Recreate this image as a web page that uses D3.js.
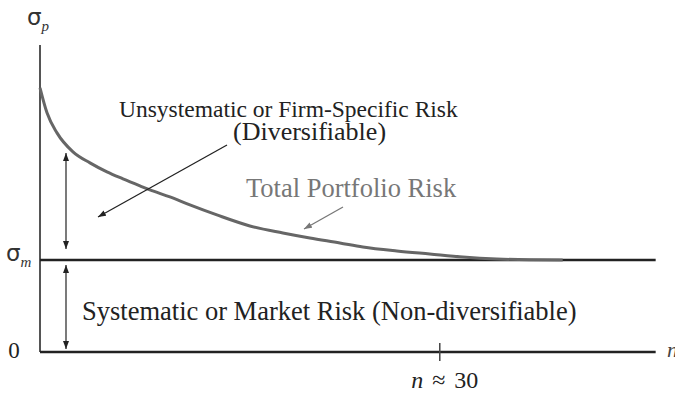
<!DOCTYPE html>
<html><head><meta charset="utf-8">
<script src="https://cdn.jsdelivr.net/npm/d3@7"></script>
<style>body{margin:0;background:#fff}svg{display:block}</style>
</head><body>
<svg id="c" width="675" height="393"></svg>
<script>
// Data
const nValues     = [0, 0.525, 1.275, 2.475, 3.75, 5.025, 6.225, 7.5, 8.25, 9.75, 11.25, 13.275, 15.75, 18.225, 20.25, 22.5, 24.225, 26.775, 29.25, 31.725, 34.275, 36.75, 39.225];
const sigmaValues = [57.4, 51.96, 47.61, 43.48, 41.09, 39.13, 37.61, 36.09, 35.22, 33.70, 31.96, 29.78, 27.39, 25.87, 24.78, 23.70, 22.83, 21.96, 21.30, 20.65, 20.22, 20.04, 20.0];
const sigmaM = 20;
const nMarker = 30;
const labels = {
  unsys1: "Unsystematic or Firm-Specific Risk",
  unsys2: "(Diversifiable)",
  total: "Total Portfolio Risk",
  sys: "Systematic or Market Risk (Non-diversifiable)"
};

const svg = d3.select("#c");
const x = d3.scaleLinear().domain([0, 46.3]).range([40, 657]);
const y = d3.scaleLinear().domain([0, 66.7]).range([352, 45]);
const serif = "'Liberation Serif', serif";

const defs = svg.append("defs");
function marker(id, color) {
  defs.append("marker").attr("id", id).attr("viewBox", "0 0 10 10")
    .attr("refX", 10).attr("refY", 5).attr("markerWidth", 8).attr("markerHeight", 6)
    .attr("markerUnits", "userSpaceOnUse").attr("orient", "auto-start-reverse")
    .attr("preserveAspectRatio", "none")
    .append("path").attr("d", "M0,0 L10,5 L0,10 z").attr("fill", color);
}
marker("ab", "#222");
marker("ag", "#777");

// Y axis line
svg.append("line").attr("x1", x(0)).attr("x2", x(0)).attr("y1", y(66.7)).attr("y2", y(0))
  .attr("stroke", "#555").attr("stroke-width", 2);

// sigma_m line
svg.append("line").attr("x1", x(0)).attr("x2", x(46.2)).attr("y1", y(sigmaM)).attr("y2", y(sigmaM))
  .attr("stroke", "#222").attr("stroke-width", 2.6);

// curve
const pts = nValues.map((n, i) => [n, sigmaValues[i]]);
svg.append("path").datum(pts)
  .attr("d", d3.line().x(d => x(d[0])).y(d => y(d[1])).curve(d3.curveMonotoneX))
  .attr("fill", "none").attr("stroke", "#666").attr("stroke-width", 3);

// X axis
const xAxis = d3.axisBottom(x).tickValues([nMarker]).tickSize(0).tickFormat("");
const gx = svg.append("g").attr("transform", `translate(0,${y(0)})`).call(xAxis);
gx.select(".domain").attr("d", `M${x(0)},0H${x(46.2)}`).attr("stroke", "#222").attr("stroke-width", 2.6);
svg.append("line").attr("x1", x(nMarker)).attr("x2", x(nMarker)).attr("y1", y(0) - 9).attr("y2", y(0) + 9)
  .attr("stroke", "#444").attr("stroke-width", 1.5);
svg.append("text").attr("x", x(nMarker) + 5).attr("y", 388).attr("text-anchor", "middle")
  .attr("font-family", serif).attr("font-size", 24).attr("fill", "#222").attr("word-spacing", 3)
  .html("<tspan font-style='italic'>n</tspan> ≈ 30");
svg.append("text").attr("x", 667).attr("y", 357).attr("font-family", serif).attr("font-style", "italic")
  .attr("font-size", 22).attr("fill", "#444").text("n");

// y labels
function sig(xp, yp, sub) {
  const t = svg.append("text").attr("x", xp).attr("y", yp).attr("font-family", "'DejaVu Sans', sans-serif")
    .attr("font-size", 23).attr("fill", "#333");
  t.append("tspan").text("σ");
  t.append("tspan").attr("font-family", serif).attr("font-style", "italic").attr("font-size", 15)
    .attr("dy", 6).text(sub);
}
sig(27, 25, "p");
sig(6, 261, "m");
svg.append("text").attr("x", 14).attr("y", 358).attr("text-anchor", "middle")
  .attr("font-family", serif).attr("font-size", 23).attr("fill", "#222").text("0");

// double arrows
function dbl(x0, y1, y2) {
  svg.append("line").attr("x1", x0).attr("x2", x0).attr("y1", y1).attr("y2", y2)
    .attr("stroke", "#222").attr("stroke-width", 1.2)
    .attr("marker-start", "url(#ab)").attr("marker-end", "url(#ab)");
}
dbl(66, 153, 249);
dbl(66, 265, 349);

// diagonal arrows
svg.append("line").attr("x1", 227).attr("y1", 145).attr("x2", 98).attr("y2", 217)
  .attr("stroke", "#222").attr("stroke-width", 1.3).attr("marker-end", "url(#ab)");
svg.append("line").attr("x1", 343).attr("y1", 207).attr("x2", 304).attr("y2", 229)
  .attr("stroke", "#777").attr("stroke-width", 1.3).attr("marker-end", "url(#ag)");

// texts
function txt(s, xp, yp, color, size) {
  return svg.append("text").attr("x", xp).attr("y", yp).attr("font-family", serif)
    .attr("font-size", size).attr("fill", color).text(s);
}
txt(labels.unsys1, 119, 117, "#222", 23.5);
txt(labels.unsys2, 233, 140, "#222", 26);
txt(labels.total, 246, 197, "#777", 26.5);
txt(labels.sys, 82, 320, "#222", 26.5);
</script>
</body></html>
